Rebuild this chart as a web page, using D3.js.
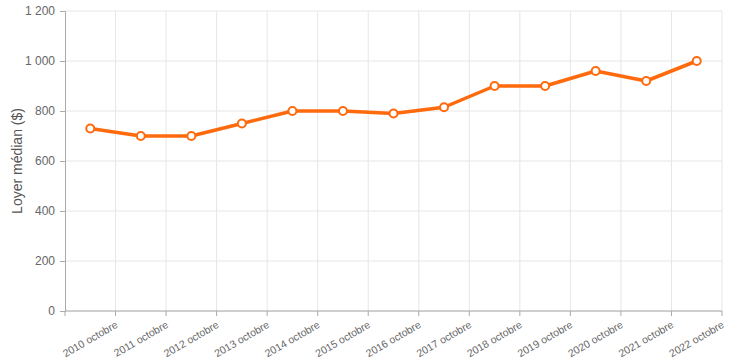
<!DOCTYPE html>
<html>
<head>
<meta charset="utf-8">
<script src="https://cdn.jsdelivr.net/npm/d3@7"></script>
<style>
body { margin: 0; background: #fff; }
svg { font-family: "Liberation Sans", Arial, sans-serif; }
</style>
</head>
<body>
<div id="chart"></div>
<script>
var categories = ["2010 octobre", "2011 octobre", "2012 octobre", "2013 octobre", "2014 octobre",
	"2015 octobre", "2016 octobre", "2017 octobre", "2018 octobre", "2019 octobre",
	"2020 octobre", "2021 octobre", "2022 octobre"];
var loyer = [730, 700, 700, 750, 800, 800, 790, 815, 900, 900, 960, 920, 1000];
var y_ticks = [0, 200, 400, 600, 800, 1000, 1200];
var y_title = "Loyer médian ($)";

var width = 745, height = 362;
var margin = {top: 11, right: 23, bottom: 51, left: 65};

var svg = d3.select("#chart").append("svg")
	.attr("width", width)
	.attr("height", height);

var x_scale = d3.scaleBand()
	.domain(categories)
	.range([margin.left, width - margin.right]);

var y_scale = d3.scaleLinear()
	.domain([0, 1200])
	.range([height - margin.bottom, margin.top]);

var fmt = function(d) {
	// French style thousands separator
	return d3.format(",")(d).replace(",", " ");
};

// grid
var grid = svg.append("g").attr("class", "grid");
grid.selectAll("line.h")
	.data(y_ticks)
	.enter().append("line")
	.attr("x1", margin.left).attr("x2", width - margin.right)
	.attr("y1", function(d) { return y_scale(d); })
	.attr("y2", function(d) { return y_scale(d); })
	.attr("stroke", "#e6e6e6");
var edges = categories.map(function(c) { return x_scale(c) + x_scale.bandwidth(); });
grid.selectAll("line.v")
	.data(edges)
	.enter().append("line")
	.attr("x1", function(d) { return d; }).attr("x2", function(d) { return d; })
	.attr("y1", margin.top).attr("y2", height - margin.bottom)
	.attr("stroke", "#e6e6e6");

// y axis
var yAxis = svg.append("g")
	.attr("transform", "translate(" + margin.left + ",0)")
	.call(d3.axisLeft(y_scale).tickValues(y_ticks).tickFormat(fmt).tickSize(5).tickPadding(5));
yAxis.select(".domain").attr("stroke", "#aaa");
yAxis.selectAll(".tick line").attr("stroke", "#aaa");
yAxis.selectAll("text").attr("fill", "#666").attr("font-size", "12px").attr("font-family", "Liberation Sans, Arial, sans-serif");

// x axis (ticks at band edges)
var xg = svg.append("g").attr("transform", "translate(0," + (height - margin.bottom) + ")");
xg.append("line")
	.attr("x1", margin.left).attr("x2", width - margin.right)
	.attr("stroke", "#aaa");
xg.selectAll("line.tick")
	.data([margin.left].concat(edges))
	.enter().append("line")
	.attr("x1", function(d) { return d; }).attr("x2", function(d) { return d; })
	.attr("y1", 0).attr("y2", 5)
	.attr("stroke", "#aaa");
xg.selectAll("text")
	.data(categories)
	.enter().append("text")
	.attr("transform", function(d) {
		var x = x_scale(d) + x_scale.bandwidth() - 1;
		return "translate(" + x + ",9) rotate(-30)";
	})
	.attr("text-anchor", "end")
	.attr("dy", "0.75em")
	.attr("fill", "#666")
	.attr("font-size", "10.5px")
	.text(function(d) { return d; });

// y title
svg.append("text")
	.attr("transform", "translate(22," + ((margin.top + height - margin.bottom) / 2) + ") rotate(-90)")
	.attr("text-anchor", "middle")
	.attr("fill", "#555")
	.attr("font-size", "14px")
	.text(y_title);

// line
var line = d3.line()
	.x(function(d, i) { return x_scale(categories[i]) + x_scale.bandwidth() / 2; })
	.y(function(d) { return y_scale(d); });

svg.append("path")
	.datum(loyer)
	.attr("d", line)
	.attr("fill", "none")
	.attr("stroke", "#ff6a0d")
	.attr("stroke-width", 3.5)
	.attr("stroke-linejoin", "round");

svg.selectAll("circle.pt")
	.data(loyer)
	.enter().append("circle")
	.attr("class", "pt")
	.attr("cx", function(d, i) { return x_scale(categories[i]) + x_scale.bandwidth() / 2; })
	.attr("cy", function(d) { return y_scale(d); })
	.attr("r", 4)
	.attr("fill", "#fff")
	.attr("stroke", "#ff6a0d")
	.attr("stroke-width", 2);
</script>
</body>
</html>
